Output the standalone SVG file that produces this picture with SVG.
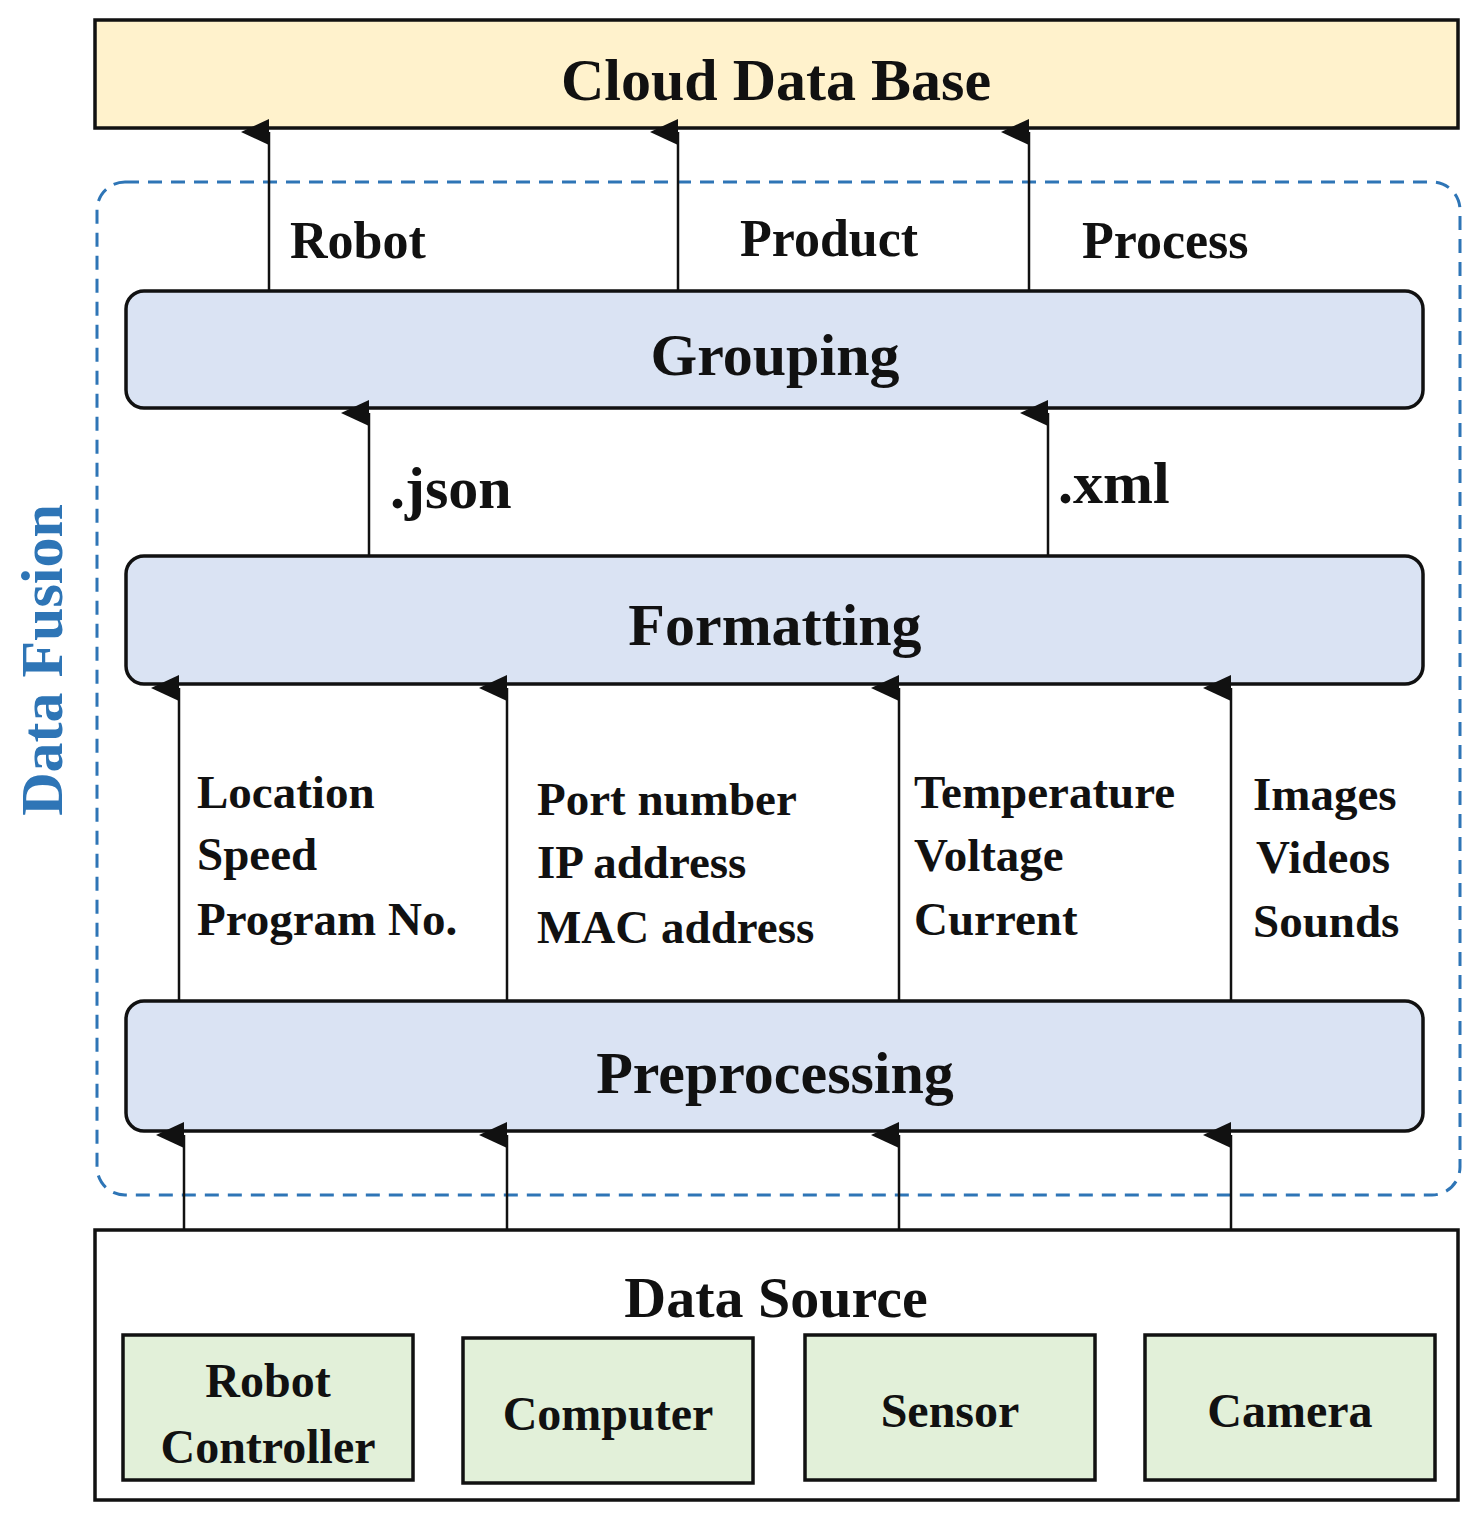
<svg xmlns="http://www.w3.org/2000/svg" width="1484" height="1531" viewBox="0 0 1484 1531">
<style>
.t{font-family:"Liberation Serif","DejaVu Serif",serif;font-weight:bold;fill:#111}
.box{stroke:#111;stroke-width:3.5}
.blue{fill:#dae3f3}
.green{fill:#e2f0d9}
.ln{stroke:#111;stroke-width:2.5;fill:none;marker-end:url(#ah)}
</style>
<defs>
<marker id="ah" markerUnits="userSpaceOnUse" markerWidth="30" markerHeight="30" refX="13" refY="28" orient="auto-start-reverse" viewBox="0 0 26 30">
<path d="M0,28 L13,0 L26,28 Z" fill="#111"/>
</marker>
</defs>
<rect width="1484" height="1531" fill="#fff"/>
<g id="cloud"><rect class="box" x="95" y="20" width="1363" height="108" fill="#fff2cc"/>
<text class="t" x="776" y="100" font-size="60" text-anchor="middle">Cloud Data Base</text></g>
<g id="fusion"><rect x="97" y="182" width="1363" height="1013" rx="28" fill="none" stroke="#2e75b6" stroke-width="3" stroke-dasharray="14,9"/>
<text class="t" x="0" y="0" font-size="60" text-anchor="middle" fill="#2e75b6" style="fill:#2e75b6" transform="translate(62,660) rotate(-90)">Data Fusion</text></g>
<g id="grouping"><rect class="box blue" x="126" y="291" width="1297" height="117" rx="18"/>
<text class="t" x="775" y="375" font-size="60" text-anchor="middle">Grouping</text></g>
<g id="formatting"><rect class="box blue" x="126" y="556" width="1297" height="128" rx="18"/>
<text class="t" x="775" y="645" font-size="60" text-anchor="middle">Formatting</text></g>
<g id="preprocessing"><rect class="box blue" x="126" y="1001" width="1297" height="130" rx="18"/>
<text class="t" x="775" y="1093" font-size="60" text-anchor="middle">Preprocessing</text></g>
<g id="source"><rect class="box" x="95" y="1230" width="1363" height="270" fill="#fff"/>
<text class="t" x="776" y="1317" font-size="58" text-anchor="middle">Data Source</text></g>
<g id="robotctl"><rect class="box green" x="123" y="1335" width="290" height="145"/>
<text class="t" x="268" y="1397" font-size="48" text-anchor="middle">Robot</text>
<text class="t" x="268" y="1463" font-size="48" text-anchor="middle">Controller</text></g>
<g id="computer"><rect class="box green" x="463" y="1338" width="290" height="145"/>
<text class="t" x="608" y="1430" font-size="48" text-anchor="middle">Computer</text></g>
<g id="sensor"><rect class="box green" x="805" y="1335" width="290" height="145"/>
<text class="t" x="950" y="1427" font-size="48" text-anchor="middle">Sensor</text></g>
<g id="camera"><rect class="box green" x="1145" y="1335" width="290" height="145"/>
<text class="t" x="1290" y="1427" font-size="48" text-anchor="middle">Camera</text></g>
<g id="connectors">
<line class="ln" x1="269" y1="291" x2="269" y2="132"/>
<line class="ln" x1="678" y1="291" x2="678" y2="132"/>
<line class="ln" x1="1029" y1="291" x2="1029" y2="132"/>
<line class="ln" x1="369" y1="556" x2="369" y2="413"/>
<line class="ln" x1="1048" y1="556" x2="1048" y2="413"/>
<line class="ln" x1="179" y1="1001" x2="179" y2="688"/>
<line class="ln" x1="507" y1="1001" x2="507" y2="688"/>
<line class="ln" x1="899" y1="1001" x2="899" y2="688"/>
<line class="ln" x1="1231" y1="1001" x2="1231" y2="688"/>
<line class="ln" x1="184" y1="1230" x2="184" y2="1135"/>
<line class="ln" x1="507" y1="1230" x2="507" y2="1135"/>
<line class="ln" x1="899" y1="1230" x2="899" y2="1135"/>
<line class="ln" x1="1231" y1="1230" x2="1231" y2="1135"/>
</g>
<g id="labels">
<text class="t" x="290" y="258" font-size="52">Robot</text>
<text class="t" x="740" y="256" font-size="52">Product</text>
<text class="t" x="1082" y="258" font-size="52">Process</text>
<text class="t" x="390" y="508" font-size="60">.json</text>
<text class="t" x="1058" y="503" font-size="60">.xml</text>
<g font-size="47">
<text class="t" x="197" y="808">Location</text>
<text class="t" x="197" y="870">Speed</text>
<text class="t" x="197" y="935">Program No.</text>
<text class="t" x="537" y="815">Port number</text>
<text class="t" x="537" y="878">IP address</text>
<text class="t" x="537" y="943">MAC address</text>
<text class="t" x="914" y="808">Temperature</text>
<text class="t" x="914" y="871">Voltage</text>
<text class="t" x="914" y="935">Current</text>
<text class="t" x="1253" y="810">Images</text>
<text class="t" x="1256" y="873">Videos</text>
<text class="t" x="1253" y="937">Sounds</text>
</g>
</g>
</svg>
